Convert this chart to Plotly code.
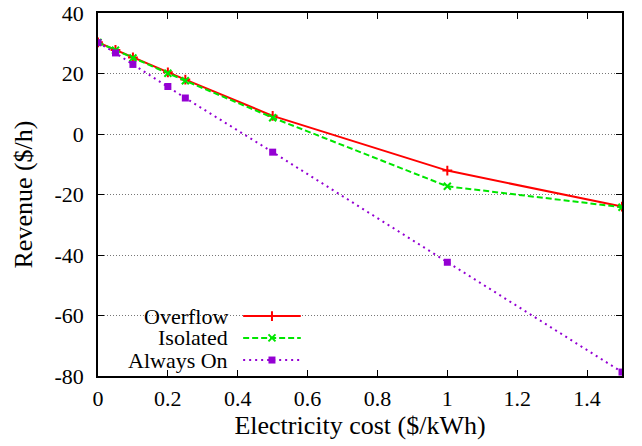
import plotly.graph_objects as go

cost = [0, 0.05, 0.1, 0.2, 0.25, 0.5, 1.0, 1.5]
overflow = [30.3, 27.8, 25.3, 20.4, 18.0, 6.0, -12.1, -24.0]
isolated = [30.3, 27.7, 25.1, 20.1, 17.6, 5.4, -17.3, -24.2]
always_on = [30.2, 26.8, 23.0, 15.7, 11.9, -6.0, -42.4, -78.7]

x_ticks = [0, 0.2, 0.4, 0.6, 0.8, 1, 1.2, 1.4]
x_ticktext = ["0", "0.2", "0.4", "0.6", "0.8", "1", "1.2", "1.4"]
y_ticks = [-80, -60, -40, -20, 0, 20, 40]
y_ticktext = ["-80", "-60", "-40", "-20", "0", "20", "40"]

series_names = ["Overflow", "Isolated", "Always On"]
colors = ["#ff0000", "#00e600", "#9400d3"]
dashes = ["solid", "6px,3px", "2px,4px"]
symbols = ["cross-thin", "x-thin", "square"]

FONT = "Liberation Serif"
FS = 22


def marker_for(s, c):
    if s == "square":
        return dict(symbol=s, size=7, color=c, line=dict(width=0))
    return dict(symbol=s, size=7, color=c, line=dict(color=c, width=2))


fig = go.Figure()
for name, vals, c, d, s in zip(series_names, [overflow, isolated, always_on], colors, dashes, symbols):
    fig.add_trace(go.Scatter(
        x=cost, y=vals, mode="lines+markers", name=name,
        line=dict(color=c, width=2, dash=d),
        marker=marker_for(s, c), showlegend=False,
    ))

# gnuplot-style legend (text right, sample left) drawn on a hidden overlay axis
leg_y = [0.165, 0.105, 0.044]
for name, c, d, s, yy in zip(series_names, colors, dashes, symbols, leg_y):
    fig.add_trace(go.Scatter(
        x=[0.277, 0.387], y=[yy, yy], mode="lines", xaxis="x2", yaxis="y2",
        line=dict(color=c, width=2, dash=d), showlegend=False, hoverinfo="skip"))
    fig.add_trace(go.Scatter(
        x=[0.332], y=[yy], mode="markers", xaxis="x2", yaxis="y2",
        marker=marker_for(s, c), showlegend=False, hoverinfo="skip"))
    fig.add_annotation(x=0.25, y=yy, xref="x2", yref="y2", text=name,
                       showarrow=False, xanchor="right", yanchor="middle",
                       borderpad=0,
                       font=dict(family=FONT, size=FS, color="black"))

fig.update_layout(
    width=642, height=446,
    margin=dict(l=98, r=20, t=13, b=70, autoexpand=False),
    paper_bgcolor="white", plot_bgcolor="white",
    font=dict(family=FONT, size=FS, color="black"),
    xaxis=dict(
        range=[0, 1.5], tickvals=x_ticks, ticktext=x_ticktext,
        ticks="inside", ticklen=6, tickcolor="black", tickwidth=1,
        ticklabelstandoff=2,
        showline=True, linecolor="black", linewidth=1.5, mirror="ticks",
        showgrid=False, zeroline=False, automargin=False,
        title=dict(text="Electricity cost ($/kWh)", standoff=6),
    ),
    yaxis=dict(
        range=[-80, 40], tickvals=y_ticks, ticktext=y_ticktext,
        ticks="inside", ticklen=6, tickcolor="black", tickwidth=1,
        ticklabelstandoff=8,
        showline=True, linecolor="black", linewidth=1.5, mirror="ticks",
        showgrid=True, gridcolor="#777777", gridwidth=1, griddash="1px,2px",
        zeroline=False, automargin=False,
        title=dict(text="Revenue ($/h)", standoff=14),
    ),
    xaxis2=dict(range=[0, 1], overlaying="x", visible=False),
    yaxis2=dict(range=[0, 1], overlaying="y", visible=False),
)

fig.write_html("out.html")
